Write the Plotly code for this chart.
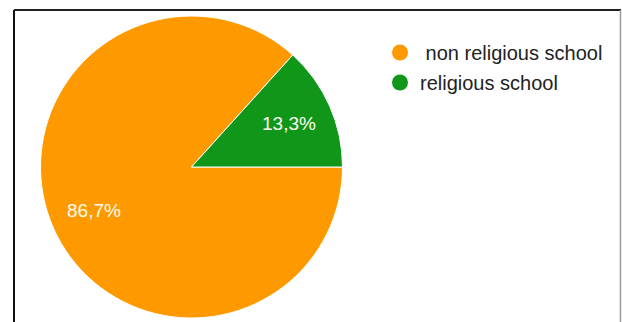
import math
import plotly.graph_objects as go

# Share of students by school type
categories = ["non religious school", "religious school"]
shares = [86.7, 13.3]
percent_labels = ["86,7%", "13,3%"]
colors = ["#FF9900", "#109618"]

W, H = 622, 322


def px_x(x):
    return x / W


def px_y(y):
    return 1 - y / H


fig = go.Figure()

# Pie: first slice starts at 3 o'clock and runs clockwise
start_deg = 90.0
cx, cy, r = 191.5, 167.0, 151.0
fig.add_trace(go.Pie(
    labels=categories,
    values=shares,
    textinfo="none",
    marker=dict(colors=colors, line=dict(color="#ffffff", width=1)),
    sort=False,
    direction="clockwise",
    rotation=start_deg,
    showlegend=False,
    hoverinfo="label+percent",
    domain=dict(x=[px_x(cx - r), px_x(cx + r)],
                y=[px_y(cy + r), px_y(cy - r)]),
))

# Percentage labels at 70% of the radius, on each slice's mid-angle
total = sum(shares)
acc = 0.0
for val, lab in zip(shares, percent_labels):
    mid = start_deg + 360.0 * (acc + val / 2) / total  # clockwise from 12 o'clock
    acc += val
    rad = math.radians(mid)
    lx = cx + 0.71 * r * math.sin(rad)
    ly = cy - 0.71 * r * math.cos(rad)
    fig.add_annotation(
        x=px_x(lx), y=px_y(ly), xref="paper", yref="paper",
        text=lab, showarrow=False, xanchor="center", yanchor="middle",
        font=dict(family="Arial, Liberation Sans", size=19, color="#fffdf0"),
    )

# Legend entries with round markers
legend_names = ["\u00a0non religious school", "religious school"]
for i, (name, col) in enumerate(zip(legend_names, colors)):
    fig.add_trace(go.Scatter(
        x=[None], y=[None], mode="markers", name=name,
        legendgroup=f"g{i}",
        marker=dict(symbol="circle", size=18, color=col),
        hoverinfo="skip",
    ))

# Frame lines around the chart area
frame = [
    dict(x0=14, y0=10, x1=14, y1=330, color="#111111", width=2),
    dict(x0=14, y0=10, x1=621, y1=10, color="#222222", width=2),
    dict(x0=620.5, y0=10, x1=620.5, y1=330, color="#999999", width=1.5),
]
for f in frame:
    fig.add_shape(type="line", xref="paper", yref="paper",
                  x0=px_x(f["x0"]), y0=px_y(f["y0"]),
                  x1=px_x(f["x1"]), y1=px_y(f["y1"]),
                  line=dict(color=f["color"], width=f["width"]))

fig.update_layout(
    width=W, height=H,
    margin=dict(l=0, r=0, t=0, b=0),
    paper_bgcolor="#ffffff",
    plot_bgcolor="#ffffff",
    xaxis=dict(visible=False),
    yaxis=dict(visible=False),
    legend=dict(
        x=px_x(380), y=px_y(33), xanchor="left", yanchor="top",
        font=dict(family="Arial, Liberation Sans", size=20, color="#222222"),
        traceorder="grouped", tracegroupgap=1,
        itemsizing="trace",
        bgcolor="rgba(0,0,0,0)",
    ),
)

fig.write_html("out.html")
